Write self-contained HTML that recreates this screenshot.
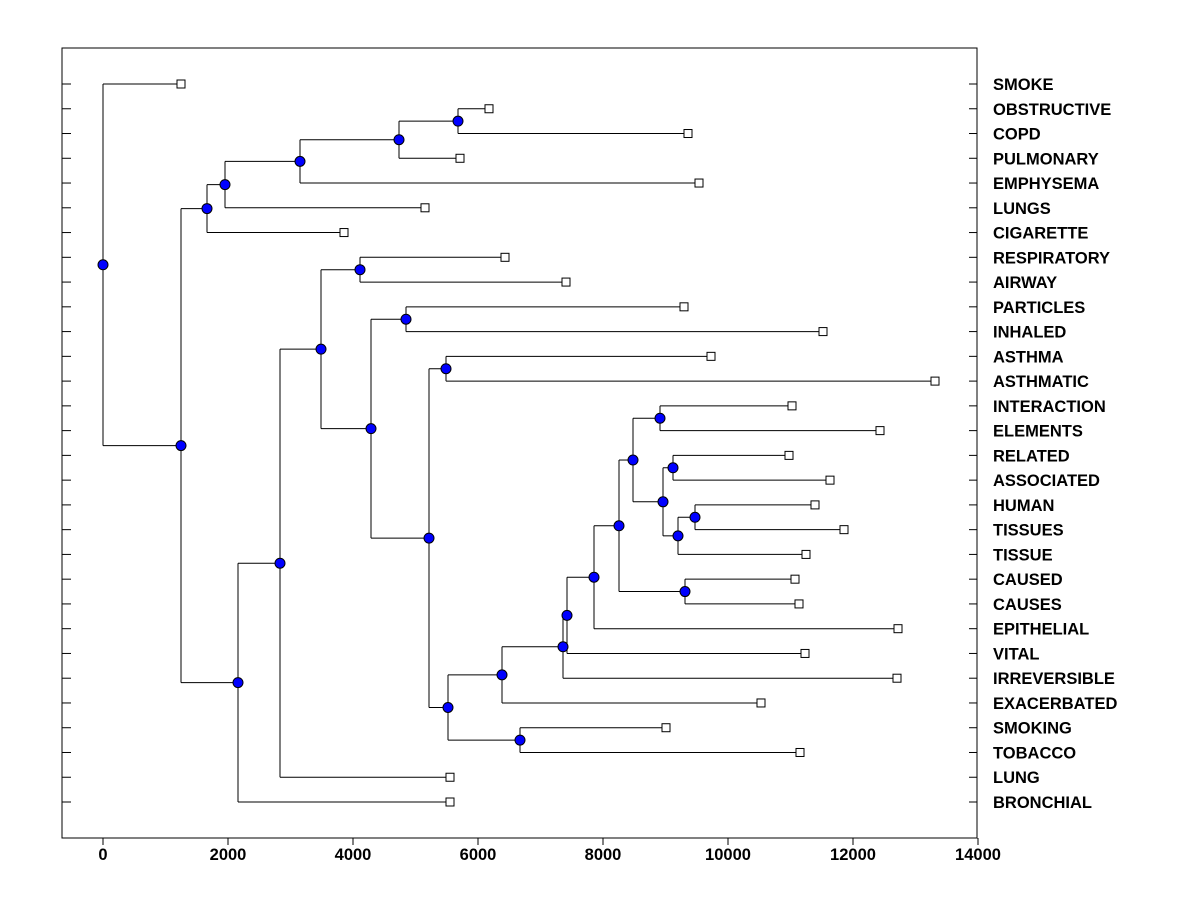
<!DOCTYPE html>
<html><head><meta charset="utf-8"><style>
body{margin:0;background:#fff}
svg text{font-family:"Liberation Sans",Arial,sans-serif;font-size:16.5px;font-weight:bold;fill:#000}
</style></head><body>
<svg id="chart" width="1200" height="900" xmlns="http://www.w3.org/2000/svg"></svg>
<script>
const leafNames=["SMOKE","OBSTRUCTIVE","COPD","PULMONARY","EMPHYSEMA","LUNGS","CIGARETTE","RESPIRATORY","AIRWAY","PARTICLES","INHALED","ASTHMA","ASTHMATIC","INTERACTION","ELEMENTS","RELATED","ASSOCIATED","HUMAN","TISSUES","TISSUE","CAUSED","CAUSES","EPITHELIAL","VITAL","IRREVERSIBLE","EXACERBATED","SMOKING","TOBACCO","LUNG","BRONCHIAL"];
const leafValues=[1248,6176,9360,5712,9536,5152,3856,6432,7408,9296,11520,9728,13312,11024,12432,10976,11632,11392,11856,11248,11072,11136,12720,11232,12704,10528,9008,11152,5552,5552];
const xTicks=[0,2000,4000,6000,8000,10000,12000,14000];
// internal nodes: [height, child, child]; numbers = leaf indices
const tree=[0,0,[1248,
  [1664,[1952,[3152,[4736,[5680,1,2],3],4],5],6],
  [2160,[2832,[3488,[4112,7,8],[4288,[4848,9,10],[5216,[5488,11,12],[5520,
     [6384,[7360,[7424,[7856,[8256,[8480,[8912,13,14],[8960,[9120,15,16],[9200,[9472,17,18],19]]],[9312,20,21]],22],23],24],25],
     [6672,26,27]]]]],28],29]]];
const L=62,R=977,T=48,B=838;
const x=v=>103+v*0.0625;
const y=i=>84+i*(802-84)/29;
const svg=document.getElementById('chart');
const NS='http://www.w3.org/2000/svg';
function mk(t,a){const e=document.createElementNS(NS,t);for(const k in a)e.setAttribute(k,a[k]);svg.appendChild(e);return e;}
const frame=mk('rect',{x:L,y:T,width:R-L,height:B-T,fill:'none',stroke:'#000','stroke-width':1});


xTicks.forEach(v=>{
  const t=mk('line',{x1:x(v),x2:x(v),y1:B,y2:B+7,stroke:'#000'});
  
  
  const l=mk('text',{x:x(v),y:B+22,'text-anchor':'middle'});l.textContent=v;
  
  
});
leafNames.forEach((n,i)=>{
  const a=mk('line',{x1:L,x2:L+9,y1:y(i),y2:y(i),stroke:'#000'});
  
  
  const b=mk('line',{x1:R-8,x2:R,y1:y(i),y2:y(i),stroke:'#000'});
  
  
  const t=mk('text',{x:993,y:y(i)+6});t.textContent=n;
  
  
});
const circles=[],squares=[];
function draw(node,px){
  if(typeof node==='number'){
    const ln=mk('line',{x1:x(px),x2:x(leafValues[node]),y1:y(node),y2:y(node),stroke:'#000'});
    
    
    squares.push([x(leafValues[node]),y(node)]);
    return y(node);
  }
  const h=node[0];
  const ys=[draw(node[1],h),draw(node[2],h)];
  const vy=mk('line',{x1:x(h),x2:x(h),y1:ys[0],y2:ys[1],stroke:'#000'});
  
  
  const my=(ys[0]+ys[1])/2;
  if(px!==null){
    const hl=mk('line',{x1:x(px),x2:x(h),y1:my,y2:my,stroke:'#000'});
    
    
  }
  circles.push([x(h),my]);
  return my;
}
draw([0,0,tree[2]],null);
squares.forEach(p=>{
  const s=mk('rect',{x:p[0]-4,y:p[1]-4,width:8,height:8,fill:'#fff',stroke:'#000'});
  
  
});
circles.forEach(p=>{
  const c=mk('circle',{cx:p[0],cy:p[1],r:5,fill:'#0000ff',stroke:'#000'});
  
  
});
</script>
</body></html>
